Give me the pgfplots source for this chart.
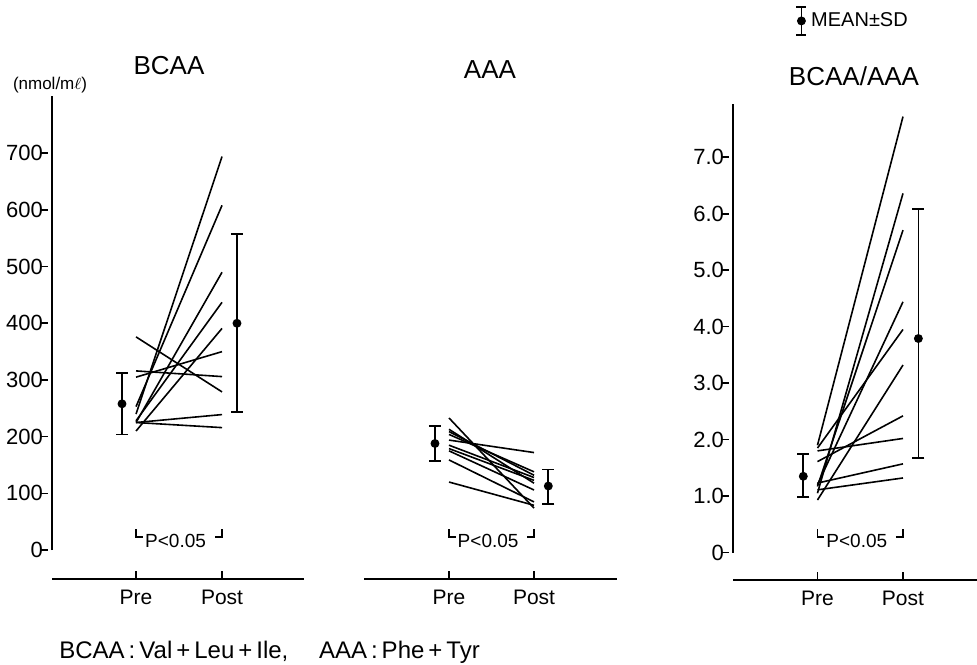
\documentclass[border=0pt]{standalone}
\usepackage{pgfplots}
\pgfplotsset{compat=1.18}
\usepackage{fontspec}
\setmainfont{Liberation Sans}
\pgfplotsset{
  panel/.style={
    clip=false,
    axis x line=bottom,
    x axis line style={line width=1.3pt,-},
    xtick={1,2}, xticklabels={Pre,Post},
    tick align=inside,
    major tick length=4pt,
    tick style={black, line width=0.8pt},
    x tick label style={font=\fontsize{10.5}{12}\selectfont, yshift=-2pt},
    y tick label style={font=\fontsize{11}{13}\selectfont, xshift=1pt},
    /pgf/number format/assume math mode=true,
    minor tick num=0,
    cycle list={{black, solid, mark=none}},
    every axis plot post/.append style={line width=0.8pt},
  },
  meansd/.style={black, only marks, mark=*, mark size=1.8pt,
    error bars/.cd, y dir=both, y explicit,
    error bar style={line width=0.8pt},
    error mark options={rotate=90, line width=0.8pt, mark size=3pt}},
}
\begin{document}
\begin{tikzpicture}
\useasboundingbox (0,0) rectangle (488.5pt,332pt);

% ---------------- BCAA ----------------
\begin{axis}[panel, at={(26pt,42.5pt)}, anchor=south west,
  x=43pt, y=0.2835pt, xmin=0.023, xmax=2.95, ymin=-51, ymax=800,
  axis y line=left,
  y axis line style={line width=1.2pt,-,shorten <=14.46pt},
  ytick={0,100,...,700}, y tick style={xshift=-4pt}]
\addplot coordinates {(1,240) (2,694)};
\addplot coordinates {(1,253) (2,608)};
\addplot coordinates {(1,225) (2,490)};
\addplot coordinates {(1,228) (2,437)};
\addplot coordinates {(1,210) (2,391)};
\addplot coordinates {(1,305) (2,350)};
\addplot coordinates {(1,316) (2,306)};
\addplot coordinates {(1,376) (2,279)};
\addplot coordinates {(1,225) (2,239)};
\addplot coordinates {(1,225) (2,216)};
\addplot[meansd] coordinates {(0.837,258) +- (0,54)};
\addplot[meansd] coordinates {(2.174,400) += (0,157) -= (0,156)};
\draw[line width=0.7pt] (axis cs:1,37) |- ([xshift=3.5pt]axis cs:1,23);
\draw[line width=0.7pt] ([xshift=-3.5pt]axis cs:2,23) -| (axis cs:2,37);
\node[font=\fontsize{9.5}{11}\selectfont] at (axis cs:1.46,16) {P<0.05};
\end{axis}

% ---------------- AAA ----------------
\begin{axis}[panel, at={(182pt,42.5pt)}, anchor=south west,
  x=42.5pt, y=0.2835pt, xmin=0, xmax=2.98, ymin=-51, ymax=800,
  axis y line=none]
\addplot coordinates {(1,233) (2,74)};
\addplot coordinates {(1,194) (2,172)};
\addplot coordinates {(1,120) (2,79)};
\addplot coordinates {(1,159) (2,85)};
\addplot coordinates {(1,213) (2,118)};
\addplot coordinates {(1,209) (2,132)};
\addplot coordinates {(1,204) (2,138)};
\addplot coordinates {(1,185) (2,128)};
\addplot coordinates {(1,179) (2,123)};
\addplot coordinates {(1,175) (2,106)};
\addplot[meansd] coordinates {(0.835,188) +- (0,31)};
\addplot[meansd] coordinates {(2.168,113) += (0,29) -= (0,32)};
\draw[line width=0.7pt] (axis cs:1,37) |- ([xshift=3.5pt]axis cs:1,23);
\draw[line width=0.7pt] ([xshift=-3.5pt]axis cs:2,23) -| (axis cs:2,37);
\node[font=\fontsize{9.5}{11}\selectfont] at (axis cs:1.46,16) {P<0.05};
\end{axis}

% ---------------- BCAA/AAA ----------------
\begin{axis}[panel, at={(366.5pt,42pt)}, anchor=south west,
  x=42.75pt, y=28.23pt, xmin=0.012, xmax=2.865, ymin=-0.487, ymax=7.94,
  axis y line=left,
  y axis line style={line width=1.2pt,-,shorten <=13.75pt},
  ytick={0,1,...,7}, yticklabels={0,1.0,2.0,3.0,4.0,5.0,6.0,7.0},
  y tick style={xshift=-4pt},
  legend style={draw=none, fill=none, at={(0.255,1.175)}, anchor=west,
    font=\fontsize{10}{11}\selectfont, inner sep=0pt}]
\addlegendimage{legend image code/.code={
  \draw[line width=0.8pt] (0.2cm,-7pt) -- (0.2cm,7pt);
  \draw[line width=0.8pt] (0.2cm-2.5pt,-7pt) -- (0.2cm+2.5pt,-7pt);
  \draw[line width=0.8pt] (0.2cm-2.5pt,7pt) -- (0.2cm+2.5pt,7pt);
  \fill (0.2cm,0pt) circle (1.8pt);
}}
\addlegendentry{MEAN±SD}
\addplot coordinates {(1,1.90) (2,7.72)};
\addplot coordinates {(1,1.85) (2,3.95)};
\addplot coordinates {(1,1.80) (2,2.02)};
\addplot coordinates {(1,1.61) (2,2.42)};
\addplot coordinates {(1,1.23) (2,1.57)};
\addplot coordinates {(1,1.11) (2,1.32)};
\addplot coordinates {(1,0.93) (2,3.32)};
\addplot coordinates {(1,1.05) (2,6.36)};
\addplot coordinates {(1,1.17) (2,5.71)};
\addplot coordinates {(1,1.20) (2,4.44)};
\addplot[meansd] coordinates {(0.834,1.35) += (0,0.39) -= (0,0.37)};
\addplot[meansd] coordinates {(2.18,3.79) += (0,2.29) -= (0,2.12)};
\draw[line width=0.7pt] (axis cs:1,0.416) |- ([xshift=3.5pt]axis cs:1,0.275);
\draw[line width=0.7pt] ([xshift=-3.5pt]axis cs:2,0.275) -| (axis cs:2,0.416);
\node[font=\fontsize{9.5}{11}\selectfont] at (axis cs:1.46,0.204) {P<0.05};
\end{axis}

% ---------------- texts ----------------
\node[font=\fontsize{13}{15}\selectfont] at (84.5pt,299pt) {BCAA};
\node[font=\fontsize{13}{15}\selectfont] at (245pt,297pt) {AAA};
\node[font=\fontsize{13}{15}\selectfont] at (427pt,294pt) {BCAA/AAA};
\node[font=\fontsize{8.5}{10}\selectfont] at (25pt,289.5pt) {(nmol/m$\ell$)};
\node[anchor=west, inner sep=0pt, font=\fontsize{12}{14}\selectfont] at (29.5pt,6pt)
  {BCAA\,:\,Val\,+\,Leu\,+\,Ile,\quad\ AAA\,:\,Phe\,+\,Tyr};
\end{tikzpicture}
\end{document}
